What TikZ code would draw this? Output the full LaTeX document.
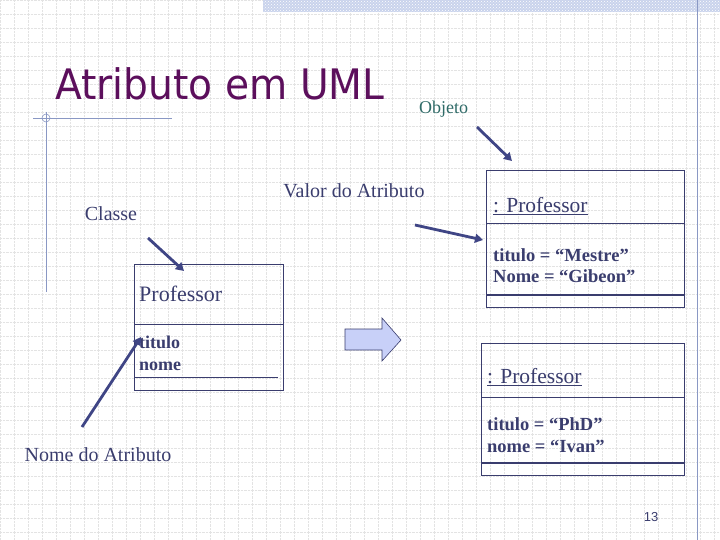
\documentclass[tikz,border=0pt]{standalone}
\usepackage{fontspec}
\setmainfont{Liberation Serif}
\newfontfamily\titlefont{DejaVu Sans}
\newfontfamily\numfont{Liberation Sans}
\usetikzlibrary{arrows.meta,patterns}
\definecolor{ink}{HTML}{3A3D6E}
\definecolor{arr}{HTML}{3F4585}
\definecolor{ttl}{HTML}{5C0F5C}
\definecolor{teal2}{HTML}{2F6B68}
\definecolor{deco}{HTML}{8A98C4}
\definecolor{band}{HTML}{C9D3EC}
\definecolor{fillarr}{HTML}{C8D0F8}
\begin{document}
\begin{tikzpicture}[x=1pt,y=-1pt,
  ptr/.style={arr,line width=2.8pt,-{Triangle[length=8pt,width=9pt]}},
  box/.style={draw=ink,line width=0.8pt},
  lbl/.style={anchor=base west,inner sep=0pt,text=ink},
  txt/.style={anchor=center,inner sep=0pt,text=ink,font=\fontsize{20}{22}\selectfont}]
\useasboundingbox (0,0) rectangle (720,540);
\fill[white] (0,0) rectangle (720,540);
\foreach \i in {0,14,...,720} \draw[gray!22,densely dotted,line width=0.4pt] (\i,0) -- (\i,540);
\foreach \j in {0,14,...,540} \draw[gray!22,densely dotted,line width=0.4pt] (0,\j) -- (720,\j);
\fill[band] (263,0) rectangle (720,12);
\fill[pattern=crosshatch dots,pattern color=white] (263,0) rectangle (720,12);
\draw[deco,line width=0.8pt] (697,0) -- (697,540);
\draw[deco,line width=0.8pt] (33,118) -- (172,118);
\draw[deco,line width=0.8pt] (46,112) -- (46,292);
\draw[deco,line width=0.6pt] (46,118) circle (4);
\node[anchor=base west,inner sep=0pt,text=ttl,font=\titlefont\fontsize{40}{44}\selectfont] (title) at (55,100) {\scalebox{0.98}[1.05]{Atributo em UML}};
\node[anchor=base west,inner sep=0pt,text=teal2,font=\fontsize{18}{20}\selectfont] (objeto) at (419,114) {Objeto};
\node[txt] (valor) at (354,191) {Valor do Atributo};
\node[txt] (classe) at (111,214) {Classe};
\node[txt] (nomeattr) at (98,455) {Nome do Atributo};
% class box
\draw[box] (134,264) rectangle (283,390);
\draw[box] (134,324) -- (283,324);
\draw[box] (134,377) -- (278,377);
\node[lbl,font=\fontsize{22}{24}\selectfont] (cname) at (139,301) {Professor};
\node[lbl,font=\bfseries\fontsize{18}{20}\selectfont] (attr1) at (139,348) {titulo};
\node[lbl,font=\bfseries\fontsize{18}{20}\selectfont] (attr2) at (139,370) {nome};
% big arrow
\draw[draw=ink,fill=fillarr,line width=0.6pt] (345,329) -- (382,329) -- (382,318) -- (401,340) -- (382,361) -- (382,350) -- (345,350) -- cycle;
\coordinate (bigarr) at (373,340);
% object box 1
\draw[box] (486,170) rectangle (684,307);
\draw[box] (486,223) -- (684,223);
\draw[box,line width=1.6pt] (486,295) -- (684,295);
\node[lbl,font=\fontsize{21.5}{23}\selectfont] (o1) at (493,212) {\underline{: Professor}};
\node[lbl,font=\bfseries\fontsize{18.5}{20}\selectfont] (o1a) at (493,261) {titulo = “Mestre”};
\node[lbl,font=\bfseries\fontsize{18.5}{20}\selectfont] (o1b) at (493,282) {Nome = “Gibeon”};
% object box 2
\draw[box] (481,343) rectangle (684,475);
\draw[box] (481,397) -- (684,397);
\draw[box,line width=1.6pt] (481,463) -- (684,463);
\node[lbl,font=\fontsize{21.5}{23}\selectfont] (o2) at (487,383) {\underline{: Professor}};
\node[lbl,font=\bfseries\fontsize{18.5}{20}\selectfont] (o2a) at (487,430) {titulo = “PhD”};
\node[lbl,font=\bfseries\fontsize{18.5}{20}\selectfont] (o2b) at (487,452) {nome = “Ivan”};
\node[anchor=base,inner sep=0pt,text=ink,font=\numfont\fontsize{13}{15}\selectfont] (pg) at (651,521) {13};
% pointers
\coordinate (p1s) at (477,127); \coordinate (p1e) at (512,161);
\coordinate (p2s) at (415,225); \coordinate (p2e) at (483,240);
\coordinate (p3s) at (148,238); \coordinate (p3e) at (184,271);
\coordinate (p4s) at (82,427);  \coordinate (p4e) at (141,337);
\draw[ptr] (p1s) -- (p1e);
\draw[ptr] (p2s) -- (p2e);
\draw[ptr] (p3s) -- (p3e);
\draw[ptr] (p4s) -- (p4e);
\end{tikzpicture}
\end{document}
